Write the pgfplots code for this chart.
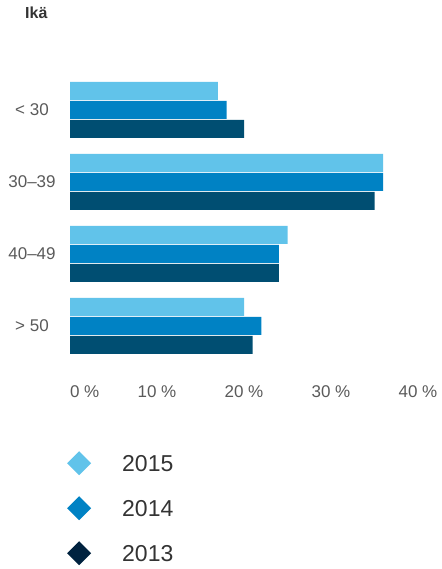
\documentclass[border=0pt]{standalone}
\usepackage{fontspec}
\setmainfont{Liberation Sans}
\usepackage{pgfplots}
\pgfplotsset{compat=1.18}
\definecolor{c15}{HTML}{61C3EA}
\definecolor{c14}{HTML}{0082C4}
\definecolor{c13}{HTML}{004E72}
\definecolor{c13leg}{HTML}{00223F}
\definecolor{tickc}{HTML}{5A5A5A}
\definecolor{legtext}{HTML}{333333}
\begin{document}
\begin{tikzpicture}[x=1pt,y=1pt]
\path[use as bounding box] (0,0) rectangle (441,569);
\node[font=\fontsize{16}{18}\selectfont\bfseries, text=legtext, anchor=base west, inner sep=0pt] at (25,550) {Ikä};
\begin{axis}[
  at={(70pt,207pt)}, anchor=south west,
  width=348pt, height=288pt, scale only axis,
  xmin=0, xmax=40, ymin=-0.5, ymax=3.5,
  xbar, bar width=18pt,
  axis line style={draw=none},
  major tick length=0pt,
  xtick={0,10,20,30,40},
  xticklabels={\rlap{0 \%},10 \%,20 \%,30 \%,40 \%},
  ytick={0,1,2,3},
  yticklabels={> 50,40–49,30–39,< 30},
  xticklabel style={anchor=center, yshift=-30pt},
  yticklabel style={anchor=center, xshift=-38pt},
  ticklabel style={font=\fontsize{17}{20}\selectfont, text=tickc},
  legend cell align=left,
  legend style={draw=none, fill=none, at={(0,0)}, anchor=north west,
    xshift=-6pt, yshift=-87pt, row sep=21pt,
    font=\fontsize{23}{27}\selectfont, text=legtext,
    /tikz/every odd column/.append style={column sep=29pt}},
  legend image code/.code={\fill[#1] (0pt,1pt) -- (12pt,13pt) -- (24pt,1pt) -- (12pt,-11pt) -- cycle;},
]
\addplot[fill=c15, draw=none, bar shift=19pt] coordinates {(20,0) (25,1) (36,2) (17,3)};
\addlegendentry{2015}
\addplot[fill=c14, draw=none, bar shift=0pt] coordinates {(22,0) (24,1) (36,2) (18,3)};
\addlegendentry{2014}
\addplot[fill=c13, draw=none, bar shift=-19pt,
  legend image code/.code={\fill[c13leg] (0pt,1pt) -- (12pt,13pt) -- (24pt,1pt) -- (12pt,-11pt) -- cycle;}]
  coordinates {(21,0) (24,1) (35,2) (20,3)};
\addlegendentry{2013}
\end{axis}
\end{tikzpicture}
\end{document}
